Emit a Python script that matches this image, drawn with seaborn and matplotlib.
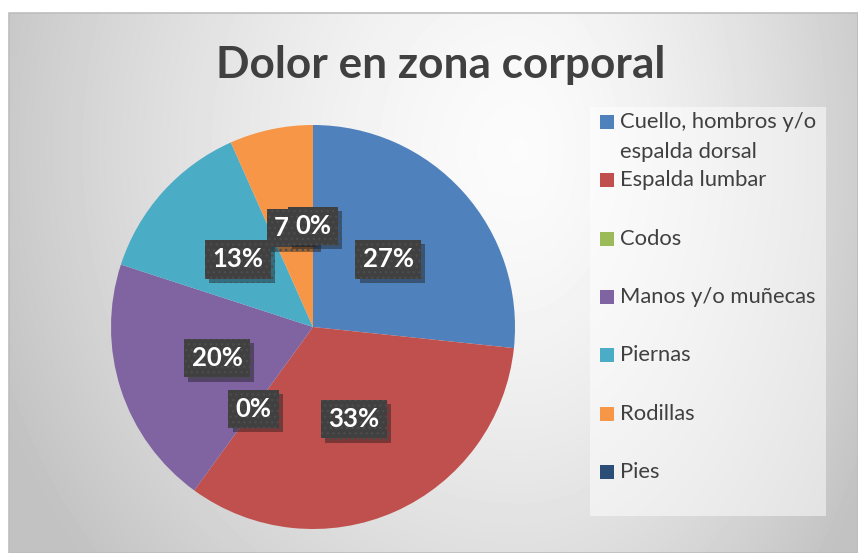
import numpy as np
import seaborn as sns
import matplotlib
matplotlib.use("Agg")
import matplotlib.pyplot as plt
import matplotlib.patheffects as pe
from matplotlib.patches import Rectangle

# data: number of answers per body zone (shown as percentages)
zonas = [
    "Cuello, hombros y/o\nespalda dorsal",
    "Espalda lumbar",
    "Codos",
    "Manos y/o muñecas",
    "Piernas",
    "Rodillas",
    "Pies",
]
respuestas = [4, 5, 0, 3, 2, 1, 0]
colores = ["#4F81BD", "#C0504D", "#9BBB59", "#8064A2", "#4BACC6", "#F79646", "#2C4D75"]
titulo = "Dolor en zona corporal"

sns.set_theme(style="white")
plt.rcParams["font.family"] = ["Lato", "DejaVu Sans"]

W, H = 858, 553
fig = plt.figure(figsize=(W / 100, H / 100), dpi=100)
fig.patch.set_facecolor("white")


def px_box(x0, y0, x1, y1):
    """pixel box (top-left origin) -> figure fraction rect"""
    return [x0 / W, 1 - y1 / H, (x1 - x0) / W, (y1 - y0) / H]


# chart area background with a soft radial gradient
bg = fig.add_axes(px_box(9, 13, W, H))
xs = np.arange(9, W) + 0.5
ys = np.arange(13, H) + 0.5
gx, gy = np.meshgrid(xs, ys)
cx, cy = 520, 150
dx = np.where(gx < cx, (gx - cx) / 540, (gx - cx) / 380)
dy = (gy - cy) / 620
r = np.sqrt(dx ** 2 + dy ** 2)
grad = np.clip(0.985 - 0.21 * r ** 1.5, 0.76, 1)
bg.imshow(grad, cmap="gray", vmin=0, vmax=1, aspect="auto", origin="upper")
bg.set_axis_off()
fig.patches.append(Rectangle((9 / W, 0), 1 - 9 / W, 1 - 13 / H, transform=fig.transFigure,
                             fill=False, edgecolor="#bdbdbd", linewidth=1.2))

# pie
ax = fig.add_axes(px_box(313 - 202, 327 - 202, 313 + 202, 327 + 202))
wedges, texts, autotexts = ax.pie(
    respuestas,
    colors=sns.color_palette(colores),
    startangle=90,
    counterclock=False,
    autopct=lambda p: f"{p:.0f}%",
    pctdistance=0.5,
    wedgeprops=dict(linewidth=0),
    textprops=dict(color="white", fontsize=18.5, fontweight="bold"),
)
ax.set_xlim(-1, 1)
ax.set_ylim(-1, 1)
ax.set_axis_off()

plt.rcParams["hatch.linewidth"] = 1.0
for t in autotexts:
    t.set_bbox(dict(boxstyle="square,pad=0.28", facecolor="#404040",
                    edgecolor="#4c4c4c", linewidth=0, hatch="..."))
    t.get_bbox_patch().set_path_effects(
        [pe.SimplePatchShadow(offset=(3, -3), alpha=0.4), pe.Normal()]
    )

# title
fig.text(441 / W, 1 - 78 / H, titulo, ha="center", va="baseline",
         fontsize=31.8, fontweight="bold", color="#404040")

# legend box
lb = px_box(590, 107, 826, 516)
fig.patches.append(Rectangle((lb[0], lb[1]), lb[2], lb[3], transform=fig.transFigure,
                             facecolor="white", alpha=0.5, edgecolor="none"))
paso = 58.3
for i, (nombre, col) in enumerate(zip(zonas, colores)):
    yc = 122 + i * paso
    fig.patches.append(Rectangle((600 / W, 1 - (yc + 7) / H), 14 / W, 14 / H,
                                 transform=fig.transFigure, facecolor=col, edgecolor="none"))
    for k, linea in enumerate(nombre.split("\n")):
        fig.text(620 / W, 1 - (yc + k * 30) / H, linea, ha="left", va="center",
                 fontsize=15.8, color="#404040")

fig.savefig("out.png", dpi=100)
